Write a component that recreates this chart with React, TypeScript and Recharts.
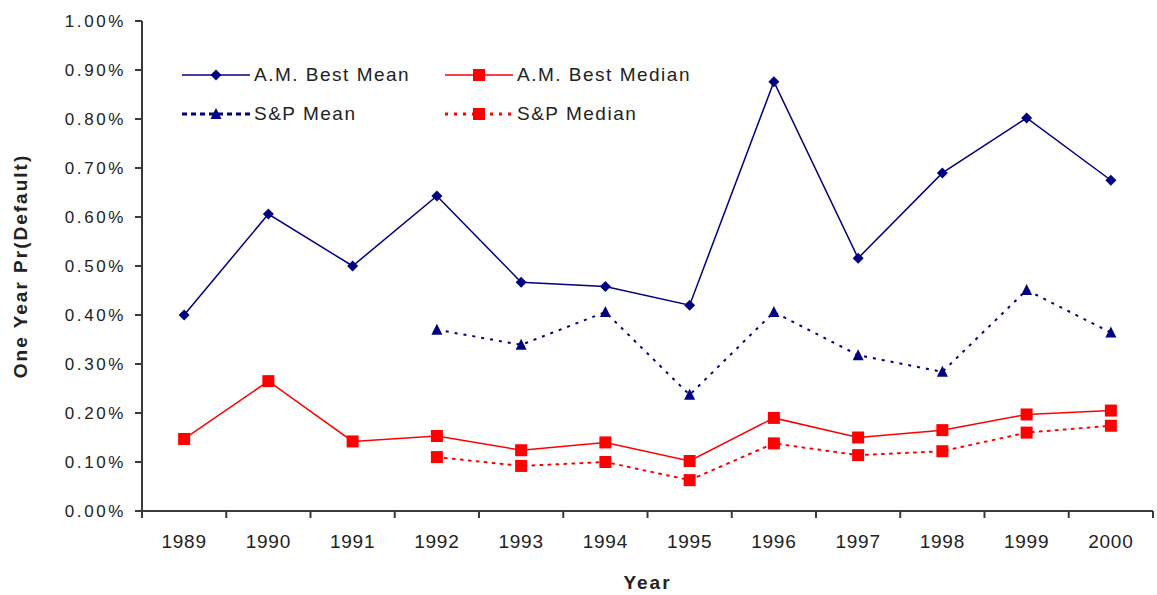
import React from "react";
import { Legend, Line, LineChart, XAxis, YAxis } from "recharts";

const years = ["1989", "1990", "1991", "1992", "1993", "1994", "1995", "1996", "1997", "1998", "1999", "2000"];
const amBestMean = [0.4, 0.606, 0.5, 0.643, 0.467, 0.458, 0.42, 0.876, 0.516, 0.69, 0.802, 0.675];
const amBestMedian = [0.147, 0.265, 0.142, 0.153, 0.124, 0.14, 0.102, 0.19, 0.15, 0.165, 0.197, 0.205];
const spMean = [null, null, null, 0.37, 0.339, 0.406, 0.237, 0.406, 0.318, 0.284, 0.451, 0.364];
const spMedian = [null, null, null, 0.11, 0.092, 0.1, 0.063, 0.138, 0.114, 0.122, 0.16, 0.174];
const yTicks = [0, 0.1, 0.2, 0.3, 0.4, 0.5, 0.6, 0.7, 0.8, 0.9, 1];

// x is numeric so tick marks can sit between the years
const data = years.map((year, i) => ({
  pos: i + 0.5,
  year,
  amMean: amBestMean[i],
  amMedian: amBestMedian[i],
  spMean: spMean[i],
  spMedian: spMedian[i],
}));
const gridTicks = years.map((_, i) => i).concat([years.length]);
const labelTicks = years.map((_, i) => i + 0.5);

const NAVY = "#000080";
const RED = "#ff0000";
const AXIS = "#3a3a3a";
const FONT = "'Liberation Sans', Arial, sans-serif";

const Diamond = ({ cx, cy, r = 5.5 }: any) => (
  <path d={`M${cx},${cy - r}L${cx + r},${cy}L${cx},${cy + r}L${cx - r},${cy}Z`} fill={NAVY} />
);
const Square = ({ cx, cy, s = 12 }: any) => (
  <rect x={cx - s / 2} y={cy - s / 2} width={s} height={s} fill={RED} />
);
const Triangle = ({ cx, cy, s = 11 }: any) => (
  <path d={`M${cx},${cy - s * 0.55}L${cx + s / 2},${cy + s * 0.45}L${cx - s / 2},${cy + s * 0.45}Z`} fill={NAVY} />
);

const markers: Record<string, any> = { diamond: Diamond, square: Square, triangle: Triangle };

const dotFor = (kind: string) => (props: any) => {
  const { cx, cy, index, value } = props;
  if (cx == null || cy == null || value == null) return <g key={`e-${index}`} />;
  const M = markers[kind];
  return <M key={`${kind}-${index}`} cx={cx} cy={cy} />;
};

const legendSpec: Record<string, { stroke: string; dash?: string; width: number; marker: string }> = {
  amMean: { stroke: NAVY, width: 1.5, marker: "diamond" },
  amMedian: { stroke: RED, width: 1.5, marker: "square" },
  spMean: { stroke: NAVY, dash: "5 4", width: 3, marker: "triangle" },
  spMedian: { stroke: RED, dash: "3 6", width: 3, marker: "square" },
};

function LegendContent({ payload }: any) {
  return (
    <div
      style={{
        display: "grid",
        gridTemplateColumns: "263px 263px",
        rowGap: 17,
        fontFamily: FONT,
        fontSize: 19,
        letterSpacing: 1.5,
        color: "#222",
      }}
    >
      {(payload || []).map((entry: any) => {
        const spec = legendSpec[entry.dataKey];
        const M = markers[spec.marker];
        return (
          <div key={entry.dataKey} style={{ display: "flex", alignItems: "center", height: 22 }}>
            <svg width={70} height={22} style={{ display: "block" }}>
              <line x1={0} x2={68} y1={11} y2={11} stroke={spec.stroke} strokeWidth={spec.width} strokeDasharray={spec.dash} />
              <M cx={34} cy={11} />
            </svg>
            <span style={{ marginLeft: 2 }}>{entry.value}</span>
          </div>
        );
      })}
    </div>
  );
}

function YTitle({ viewBox }: any) {
  const x = 20;
  const y = viewBox ? viewBox.y + viewBox.height / 2 : 266;
  return (
    <text
      x={x}
      y={y}
      transform={`rotate(-90 ${x} ${y})`}
      textAnchor="middle"
      dominantBaseline="central"
      fontFamily={FONT}
      fontSize={19}
      fontWeight="bold"
      letterSpacing={2}
      fill="#222"
    >
      One Year Pr(Default)
    </text>
  );
}

export default function App() {
  return (
    <div style={{ position: "absolute", left: 0, top: 0, width: 1157, height: 595, background: "#fff" }}>
      <LineChart width={1157} height={595} data={data} margin={{ top: 21, right: 4, bottom: 0, left: 0 }}>
        <XAxis
          xAxisId="grid"
          dataKey="pos"
          type="number"
          domain={[0, years.length]}
          ticks={gridTicks}
          tickFormatter={() => ""}
          height={10}
          tickSize={7}
          stroke={AXIS}
          strokeWidth={2}
        />
        <XAxis
          xAxisId="lbl"
          dataKey="pos"
          type="number"
          domain={[0, years.length]}
          ticks={labelTicks}
          tickFormatter={(v: number) => years[Math.floor(v)]}
          axisLine={false}
          tickLine={false}
          tickSize={0}
          tickMargin={14}
          height={74}
          tick={{ fill: "#222", fontSize: 19, fontFamily: FONT, letterSpacing: 0.8 }}
          label={{
            value: "Year",
            position: "insideBottom",
            offset: 6,
            style: { fill: "#222", fontSize: 19, fontWeight: "bold", fontFamily: FONT, letterSpacing: 2 },
          }}
        />
        <XAxis
          xAxisId="top"
          orientation="top"
          type="number"
          domain={[0, years.length]}
          height={0}
          tick={false}
          tickLine={false}
          stroke={AXIS}
          strokeWidth={2}
        />
        <YAxis
          yAxisId="v"
          domain={[0, 1]}
          ticks={yTicks}
          tickFormatter={(v: number) => `${v.toFixed(2)}%`}
          width={142}
          tickSize={7}
          tickMargin={9}
          stroke={AXIS}
          strokeWidth={2}
          tick={{ fill: "#222", fontSize: 17, fontFamily: FONT, letterSpacing: 2.6 }}
          label={<YTitle />}
        />
        <YAxis
          yAxisId="frame"
          orientation="right"
          domain={[0, 1]}
          width={0}
          tick={false}
          tickLine={false}
          stroke={AXIS}
          strokeWidth={2}
        />
        <Legend
          content={<LegendContent />}
          layout="horizontal"
          verticalAlign="middle"
          align="center"
          wrapperStyle={{ position: "absolute", left: 182, top: 64, width: 560 }}
        />
        <Line
          xAxisId="grid"
          yAxisId="v"
          dataKey="amMean"
          name="A.M. Best Mean"
          stroke={NAVY}
          strokeWidth={1.5}
          dot={dotFor("diamond")}
          isAnimationActive={false}
        />
        <Line
          xAxisId="grid"
          yAxisId="v"
          dataKey="amMedian"
          name="A.M. Best Median"
          stroke={RED}
          strokeWidth={1.5}
          dot={dotFor("square")}
          isAnimationActive={false}
        />
        <Line
          xAxisId="grid"
          yAxisId="v"
          dataKey="spMean"
          name="S&P Mean"
          stroke={NAVY}
          strokeWidth={2}
          strokeDasharray="3 6"
          dot={dotFor("triangle")}
          isAnimationActive={false}
        />
        <Line
          xAxisId="grid"
          yAxisId="v"
          dataKey="spMedian"
          name="S&P Median"
          stroke={RED}
          strokeWidth={2}
          strokeDasharray="2 6"
          strokeLinecap="round"
          dot={dotFor("square")}
          isAnimationActive={false}
        />
      </LineChart>
    </div>
  );
}
